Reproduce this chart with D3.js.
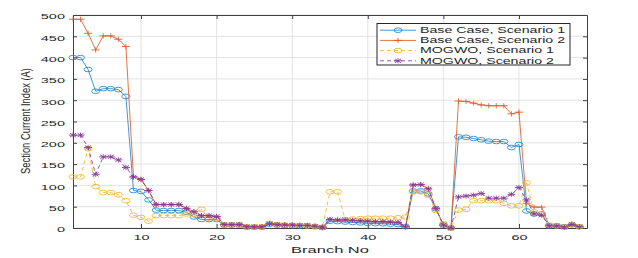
<!DOCTYPE html>
<html>
<head>
<meta charset="utf-8">
<script src="https://cdn.jsdelivr.net/npm/d3@7"></script>
<style>
  body { margin: 0; background: #fff; }
  text { font-family: "Liberation Sans", Arial, sans-serif; fill: #262626; }
</style>
</head>
<body>
<div id="chart-div"></div>
<script>
// branch numbers 1..68
const branches = d3.range(1, 69);

const baseCase1 = [400, 400, 372, 321, 327, 327, 325, 309, 88, 86,
    66, 42, 41, 41, 41, 37, 26, 20, 20, 20,
    7, 7, 7, 2, 2, 2, 9, 7, 6, 6,
    5, 5, 3, 1, 16, 15, 14, 13, 12, 11,
    10, 10, 9, 8, 3, 87, 87, 80, 45, 7,
    0, 214, 213, 210, 207, 204, 203, 203, 189, 196,
    40, 33, 33, 5, 5, 3, 8, 3];

const baseCase2 = [490, 490, 457, 418, 451, 451, 443, 426, 120, 114,
    88, 55, 55, 55, 55, 46, 38, 29, 29, 27,
    8, 8, 8, 3, 3, 3, 10, 8, 7, 7,
    6, 6, 4, 2, 20, 19, 19, 18, 17, 16,
    15, 15, 14, 13, 3, 101, 102, 92, 46, 7,
    0, 298, 297, 293, 289, 287, 287, 287, 268, 272,
    58, 49, 49, 6, 5, 3, 9, 3];

const mogwo1 = [120, 120, 186, 97, 83, 83, 78, 64, 30, 25,
    16, 29, 29, 29, 29, 33, 32, 44, 23, 22,
    8, 7, 7, 3, 3, 3, 11, 8, 7, 6,
    6, 5, 4, 2, 85, 85, 20, 21, 22, 23,
    23, 23, 23, 24, 26, 85, 85, 77, 41, 10,
    0, 42, 44, 64, 64, 64, 64, 58, 52, 52,
    106, 38, 33, 7, 5, 2, 8, 3];

const mogwo2 = [218, 218, 189, 126, 167, 167, 160, 142, 120, 114,
    88, 55, 55, 55, 55, 46, 38, 29, 29, 27,
    8, 8, 8, 3, 3, 3, 10, 8, 7, 7,
    6, 6, 4, 2, 20, 19, 19, 18, 17, 16,
    15, 15, 14, 13, 3, 101, 102, 92, 46, 7,
    0, 73, 75, 77, 81, 70, 70, 70, 79, 95,
    66, 33, 30, 5, 5, 2, 8, 3];

const seriesNames = ["Base Case, Scenario 1", "Base Case, Scenario 2", "MOGWO, Scenario 1", "MOGWO, Scenario 2"];
const xTicks = [10, 20, 30, 40, 50, 60];
const yTicks = [0, 50, 100, 150, 200, 250, 300, 350, 400, 450, 500];

const series = [
    { name: seriesNames[0], values: baseCase1, color: "#1f85cf", marker: "o", dash: null },
    { name: seriesNames[1], values: baseCase2, color: "#e05a25", marker: "+", dash: null },
    { name: seriesNames[2], values: mogwo1, color: "#efb52c", marker: "o", dash: "4,3" },
    { name: seriesNames[3], values: mogwo2, color: "#86379a", marker: "*", dash: "4,3" }
];

const W = 638, H = 258;
const plot = { left: 73, right: 587, top: 15, bottom: 228 };
const squash = 0.55;   // picture is squeezed vertically
const lw = 0.85;

const svg = d3.select("#chart-div").append("svg")
    .attr("width", W).attr("height", H);

const x = d3.scaleLinear().domain([1, 69]).range([plot.left, plot.right]);
const y = d3.scaleLinear().domain([0, 500]).range([plot.bottom, plot.top]);

// grid
svg.append("g").selectAll("line").data(xTicks).enter().append("line")
    .attr("x1", d => x(d)).attr("x2", d => x(d))
    .attr("y1", plot.top).attr("y2", plot.bottom)
    .attr("stroke", "#e3e3e3").attr("stroke-width", 1);
svg.append("g").selectAll("line").data(yTicks).enter().append("line")
    .attr("x1", plot.left).attr("x2", plot.right)
    .attr("y1", d => y(d)).attr("y2", d => y(d))
    .attr("stroke", "#e3e3e3").attr("stroke-width", 1);

// axes (ticks inward, box on)
const bottomAxis = svg.append("g").attr("transform", `translate(0,${plot.bottom})`)
    .call(d3.axisBottom(x).tickValues(xTicks).tickSizeInner(-4).tickSizeOuter(0));
bottomAxis.selectAll("text")
    .attr("y", null).attr("dy", "0.35em")
    .attr("transform", `translate(0,9.5) scale(1,${squash})`);

const leftAxis = svg.append("g").attr("transform", `translate(${plot.left},0)`)
    .call(d3.axisLeft(y).tickValues(yTicks).tickSizeInner(-4).tickSizeOuter(0));
leftAxis.selectAll("text")
    .attr("x", null).attr("dy", "0.35em")
    .attr("transform", `translate(-8,1) scale(1,${squash})`);

svg.append("g").attr("transform", `translate(0,${plot.top})`)
    .call(d3.axisTop(x).tickValues(xTicks).tickSizeInner(-4).tickSizeOuter(0).tickFormat(""));
svg.append("g").attr("transform", `translate(${plot.right},0)`)
    .call(d3.axisRight(y).tickValues(yTicks).tickSizeInner(-4).tickSizeOuter(0).tickFormat(""));

svg.selectAll(".domain, .tick line").attr("stroke", "#404040").attr("stroke-width", 1);
svg.selectAll(".tick text").attr("font-size", 14.5).attr("fill", "#262626")
    .attr("font-family", "Liberation Sans, Arial, sans-serif");

// axis labels
svg.append("text")
    .attr("transform", `translate(${(plot.left + plot.right) / 2},250) scale(1,${squash})`)
    .attr("text-anchor", "middle").attr("dy", "0.35em")
    .attr("font-size", 16.5)
    .text("Branch No");

svg.append("text")
    .attr("transform", "translate(25,121) rotate(-90)")
    .attr("text-anchor", "middle").attr("dy", "0.35em")
    .attr("font-size", 13)
    .attr("textLength", 106).attr("lengthAdjust", "spacingAndGlyphs")
    .text("Section Current Index (A)");

// markers
function drawMarker(g, type, cx, cy, color) {
    if (type === "o") {
        g.append("ellipse").attr("cx", cx).attr("cy", cy).attr("rx", 4).attr("ry", 2.3)
            .attr("fill", "none").attr("stroke", color).attr("stroke-width", lw);
    } else {
        const dx = 4, dy = 2.6;
        const segs = [[-dx, 0, dx, 0], [0, -dy, 0, dy]];
        if (type === "*") segs.push([-dx * 0.75, -dy * 0.75, dx * 0.75, dy * 0.75], [-dx * 0.75, dy * 0.75, dx * 0.75, -dy * 0.75]);
        segs.forEach(s => g.append("line")
            .attr("x1", cx + s[0]).attr("y1", cy + s[1]).attr("x2", cx + s[2]).attr("y2", cy + s[3])
            .attr("stroke", color).attr("stroke-width", lw));
    }
}

const line = d3.line().x((d, i) => x(branches[i])).y(d => y(d));

series.forEach(s => {
    const g = svg.append("g");
    g.append("path").datum(s.values)
        .attr("d", line)
        .attr("fill", "none")
        .attr("stroke", s.color)
        .attr("stroke-width", lw)
        .attr("stroke-dasharray", s.dash);
    s.values.forEach((v, i) => drawMarker(g, s.marker, x(branches[i]), y(v), s.color));
});

// legend
const legend = svg.append("g");
legend.append("rect")
    .attr("x", 377).attr("y", 23.5).attr("width", 193).attr("height", 41.5)
    .attr("fill", "#fff").attr("stroke", "#262626").attr("stroke-width", 1);
series.forEach((s, i) => {
    const ly = 30.2 + i * 10.2;
    legend.append("line")
        .attr("x1", 380).attr("x2", 416).attr("y1", ly).attr("y2", ly)
        .attr("stroke", s.color).attr("stroke-width", lw)
        .attr("stroke-dasharray", s.dash);
    drawMarker(legend, s.marker, 398, ly, s.color);
    legend.append("text")
        .attr("transform", `translate(420,${ly}) scale(1,${squash + 0.03})`)
        .attr("dy", "0.35em")
        .attr("font-size", 14.2)
        .attr("fill", "#000")
        .text(s.name);
});
</script>
</body>
</html>
